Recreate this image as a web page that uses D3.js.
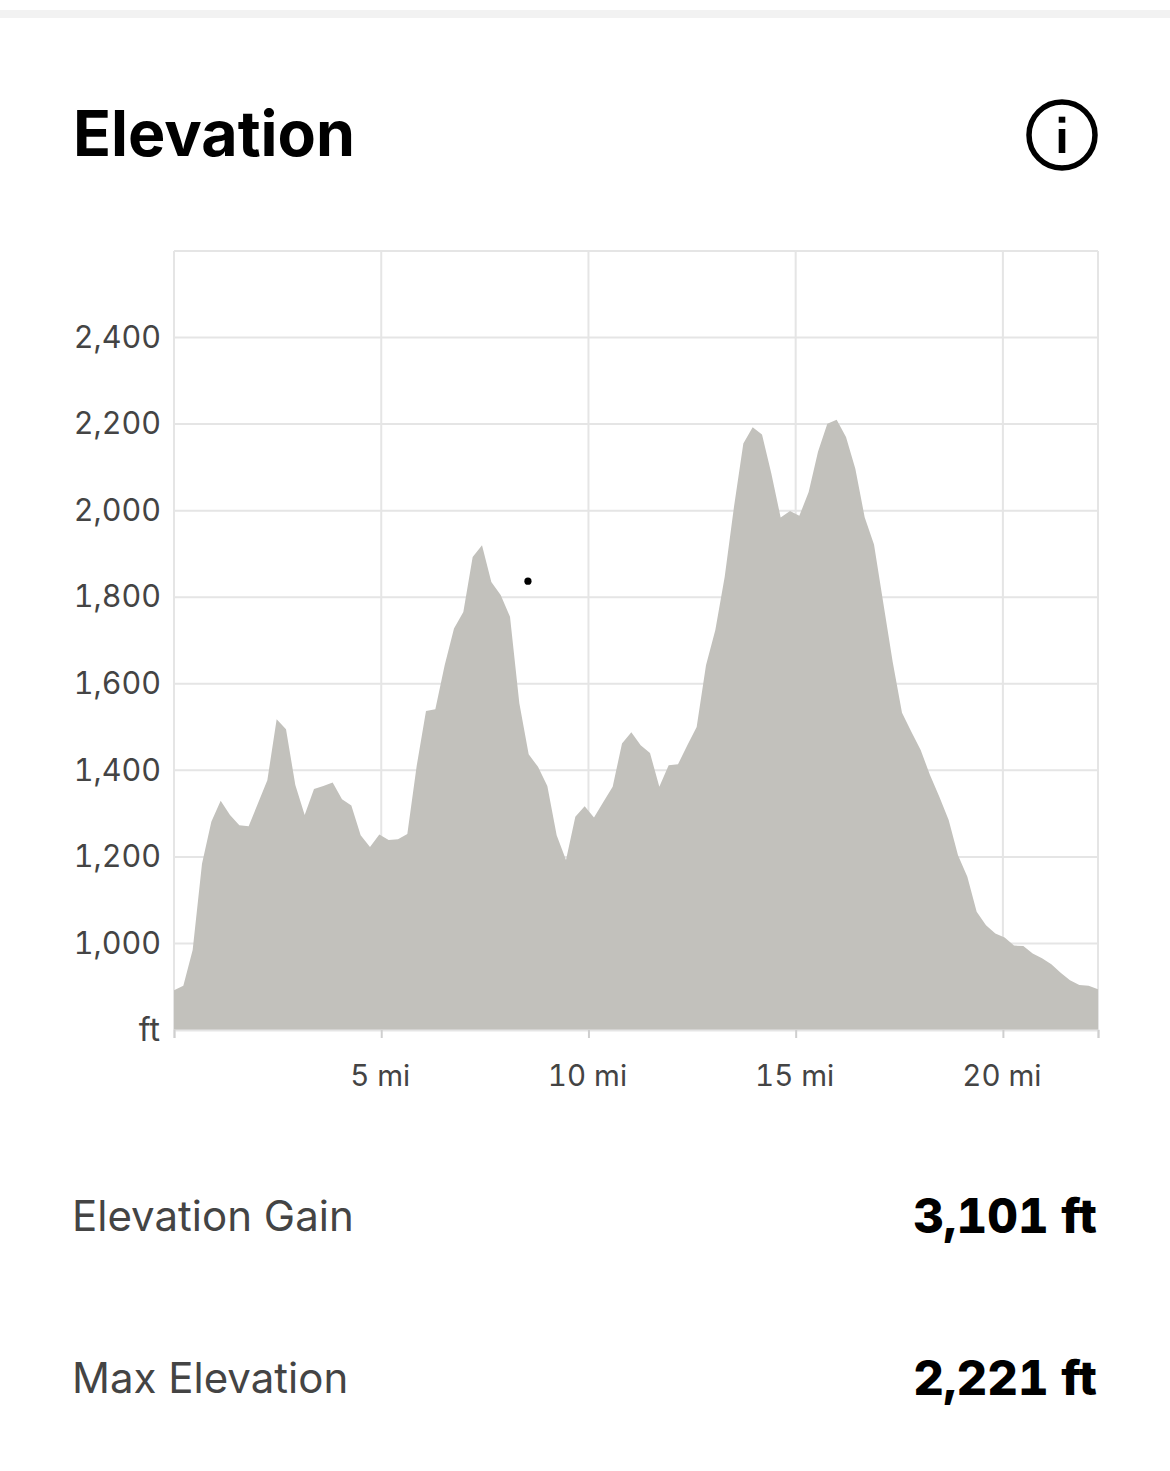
<!DOCTYPE html>
<html>
<head>
<meta charset="utf-8">
<style>
html,body{margin:0;padding:0;background:#fff;}
svg{display:block;}
text{font-family:Inter,Roboto,sans-serif;}
.tnum{font-variant-numeric:tabular-nums;}
</style>
<script src="https://cdnjs.cloudflare.com/ajax/libs/d3/7.8.5/d3.min.js"></script>
</head>
<body>
<svg id="chart" width="1170" height="1471"></svg>
<script>
const title = "Elevation";
const stats = ["Elevation Gain", "Max Elevation"];
const statValues = ["3,101 ft", "2,221 ft"];
const yTicks = [1000, 1200, 1400, 1600, 1800, 2000, 2200, 2400];
const xTicks = [5, 10, 15, 20];
const mileStep = 0.2252;
const elevations = [
  892, 902, 985, 1184, 1281, 1330, 1297, 1273, 1271, 1324,
  1377, 1518, 1495, 1366, 1297, 1357, 1364, 1372, 1333, 1319,
  1250, 1223, 1252, 1239, 1241, 1253, 1410, 1537, 1541, 1643,
  1728, 1766, 1893, 1920, 1835, 1805, 1755, 1555, 1437, 1408,
  1364, 1250, 1193, 1293, 1317, 1291, 1327, 1362, 1462, 1488,
  1458, 1440, 1362, 1412, 1414, 1458, 1500, 1643, 1724, 1847,
  2009, 2155, 2193, 2176, 2086, 1984, 1999, 1988, 2043, 2136,
  2201, 2210, 2170, 2097, 1985, 1922, 1786, 1651, 1533, 1489,
  1447, 1389, 1339, 1285, 1204, 1154, 1073, 1042, 1023, 1014,
  995, 994, 977, 966, 952, 932, 915, 904, 902, 894
];
const markerMile = [8.54];
const markerElevation = [1837];

const svg = d3.select("#chart");
const x = d3.scaleLinear().domain([0, mileStep * (elevations.length - 1)]).range([174, 1098]);
const y = d3.scaleLinear().domain([800, 2600]).range([1030, 251]);
const ink = "#444444", grid = "#e5e5e5";

svg.append("rect").attr("x", 0).attr("y", 10).attr("width", 1170).attr("height", 8).attr("fill", "#f2f2f2");

svg.append("text").attr("x", 73).attr("y", 156).attr("font-size", 62.7).attr("font-weight", 700)
  .attr("fill", "#000").text(title);

const info = svg.append("g").attr("transform", "translate(1062,135)");
info.append("circle").attr("r", 33).attr("fill", "none").attr("stroke", "#000").attr("stroke-width", 5.5);
info.append("rect").attr("x", -3.3).attr("y", -18.3).attr("width", 6.6).attr("height", 6).attr("fill", "#000");
info.append("rect").attr("x", -3.3).attr("y", -6).attr("width", 6.6).attr("height", 24).attr("fill", "#000");

// Grid
const gridG = svg.append("g").attr("stroke", grid).attr("stroke-width", 2).attr("fill", "none");
gridG.selectAll("line.h").data([...yTicks, 2600]).join("line").attr("class", "h")
  .attr("x1", x.range()[0]).attr("x2", x.range()[1]).attr("y1", d => y(d)).attr("y2", d => y(d));
gridG.selectAll("line.v").data([0, ...xTicks, x.domain()[1]]).join("line").attr("class", "v")
  .attr("x1", d => x(d)).attr("x2", d => x(d)).attr("y1", y.range()[1]).attr("y2", y.range()[0]);

// Area
const area = d3.area().x((d, i) => x(i * mileStep)).y0(y(800)).y1(d => y(d));
svg.append("path").datum(elevations).attr("d", area).attr("fill", "#c2c1bc");

svg.selectAll("circle.marker").data(markerMile).join("circle").attr("class", "marker")
  .attr("cx", d => x(d)).attr("cy", (d, i) => y(markerElevation[i])).attr("r", 3.6).attr("fill", "#000");

// Axes
const xAxis = d3.axisBottom(x).tickValues([0, ...xTicks, x.domain()[1]]).tickSize(8).tickPadding(27)
  .tickFormat(d => xTicks.includes(d) ? d + " mi" : "");
const gx = svg.append("g").attr("transform", "translate(0,1030)").call(xAxis);
gx.select(".domain").attr("stroke", grid).attr("stroke-width", 2);
gx.selectAll(".tick line").attr("stroke", "#cfcfcf").attr("stroke-width", 2);
gx.selectAll(".tick text").attr("class", "tnum").attr("dx", -1.5).attr("font-size", 29.5).attr("fill", ink).attr("font-family", "Inter,Roboto,sans-serif");

const yAxis = d3.axisLeft(y).tickValues(yTicks).tickSize(0).tickPadding(13).tickFormat(d3.format(","));
const gy = svg.append("g").attr("transform", "translate(174,0)").call(yAxis);
gy.select(".domain").remove();
gy.selectAll(".tick text").attr("class", "tnum").attr("font-size", 30.5).attr("fill", ink).attr("font-family", "Inter,Roboto,sans-serif");

svg.append("text").attr("x", 160).attr("y", 1041).attr("text-anchor", "end").attr("font-size", 32).attr("fill", ink).text("ft");

// Stats
const rowY = [1231, 1393];
stats.forEach((s, i) => {
  svg.append("text").attr("x", 72).attr("y", rowY[i]).attr("font-size", 42).attr("fill", ink).text(s);
  svg.append("text").attr("class", "tnum").attr("x", 1097).attr("y", rowY[i] + 2).attr("text-anchor", "end").attr("font-size", 47.5)
    .attr("font-weight", 800).attr("fill", "#000").text(statValues[i]);
});
</script>
</body>
</html>
